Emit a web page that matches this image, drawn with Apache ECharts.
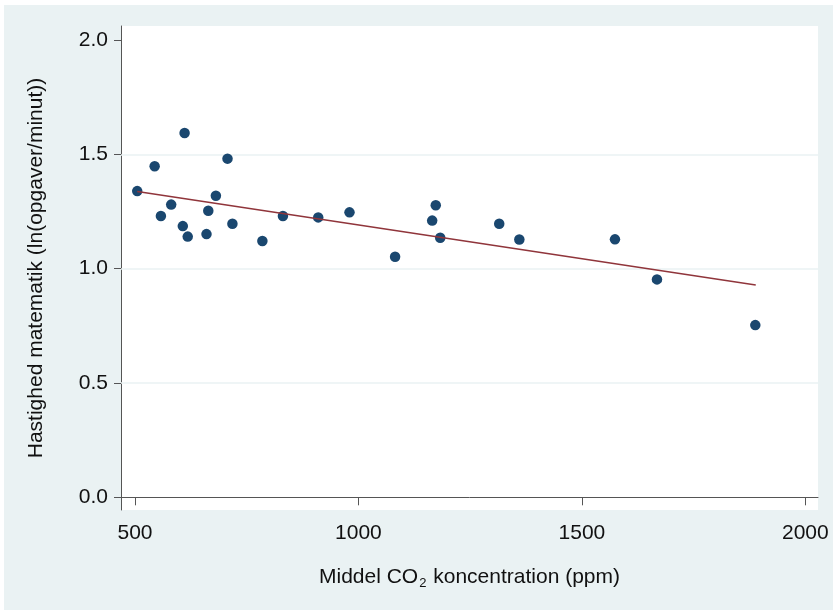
<!DOCTYPE html>
<html>
<head>
<meta charset="utf-8">
<script src="https://cdn.jsdelivr.net/npm/echarts@6/dist/echarts.min.js"></script>
<style>
  html, body { margin: 0; padding: 0; background: #ffffff; }
  #chart { width: 833px; height: 610px; }
</style>
</head>
<body>
<div id="chart"></div>
<script>
// CO2 concentration (ppm) for each observation
const co2 = [505, 544, 558, 581, 607, 611, 618, 660, 664, 681, 707, 718, 785, 831, 910, 980, 1082, 1165, 1173, 1183, 1315, 1360, 1574, 1668, 1888];
// Speed in mathematics, ln(tasks/minute)
const speed = [1.339, 1.448, 1.230, 1.280, 1.186, 1.593, 1.140, 1.151, 1.253, 1.319, 1.481, 1.196, 1.121, 1.230, 1.224, 1.246, 1.052, 1.210, 1.277, 1.135, 1.196, 1.127, 1.128, 0.953, 0.753];
// Linear fit endpoints
const fitX = [505, 1889];
const fitY = [1.337, 0.928];
// Tick labels
const xTicks = [500, 1000, 1500, 2000];
const yTicks = [0, 0.5, 1.0, 1.5, 2.0];
const yGrid = [0.5, 1.0, 1.5];

const FONT = "'Liberation Sans', Arial, Helvetica, sans-serif";
const TXT = '#111111';
const AXIS = '#555555';

const chart = echarts.init(document.getElementById('chart'), null, { renderer: 'canvas' });
chart.setOption({
  animation: false,
  backgroundColor: '#ffffff',
  graphic: [{
    type: 'rect', z: -100, silent: true,
    shape: { x: 4, y: 5, width: 829, height: 605 },
    style: { fill: '#eaf2f3' }
  }],
  grid: {
    left: 121, right: 15, top: 26, bottom: 100,
    show: true, backgroundColor: '#ffffff', borderWidth: 0
  },
  xAxis: {
    type: 'value',
    min: 468.7, max: 2028.3,
    axisLine: { show: true, lineStyle: { color: AXIS, width: 1 } },
    axisTick: { show: true, length: 8, customValues: xTicks, lineStyle: { color: AXIS } },
    axisLabel: {
      customValues: xTicks, margin: 13, fontSize: 21, fontFamily: FONT, color: TXT,
      formatter: v => String(Math.round(v))
    },
    splitLine: { show: false },
    name: '{a|Middel CO}{s|2}{a| koncentration (ppm)}',
    nameLocation: 'middle',
    nameGap: 57,
    nameTextStyle: {
      rich: {
        a: { fontSize: 21, fontFamily: FONT, color: TXT },
        s: { fontSize: 13, fontFamily: FONT, color: TXT, verticalAlign: 'bottom', padding: [0, 1, -2, 1] }
      }
    }
  },
  yAxis: {
    type: 'value',
    min: -0.0555, max: 2.061,
    axisLine: { show: true, lineStyle: { color: AXIS, width: 1 } },
    axisTick: { show: true, length: 7, customValues: yTicks, lineStyle: { color: AXIS } },
    axisLabel: {
      customValues: yTicks, margin: 13, fontSize: 21, fontFamily: FONT, color: TXT,
      formatter: v => Number(v).toFixed(1)
    },
    splitLine: { show: false },
    name: 'Hastighed matematik (ln(opgaver/minut))',
    nameLocation: 'middle',
    nameRotate: 90,
    nameGap: 74,
    nameTextStyle: { fontSize: 21, fontFamily: FONT, color: TXT }
  },
  series: [
    {
      type: 'scatter',
      data: co2.map((x, i) => [x, speed[i]]),
      symbol: 'circle',
      symbolSize: 10.5,
      itemStyle: { color: '#1a476f', opacity: 1 },
      z: 3,
      markLine: {
        silent: true,
        symbol: ['none', 'none'],
        label: { show: false },
        lineStyle: { color: '#eaf2f3', width: 1.5, type: 'solid' },
        data: yGrid.map(v => ({ yAxis: v })),
        z: 1
      }
    },
    {
      type: 'line',
      data: fitX.map((x, i) => [x, fitY[i]]),
      symbol: 'none',
      lineStyle: { color: '#90353b', width: 1.5 },
      z: 4
    }
  ]
});
</script>
</body>
</html>
